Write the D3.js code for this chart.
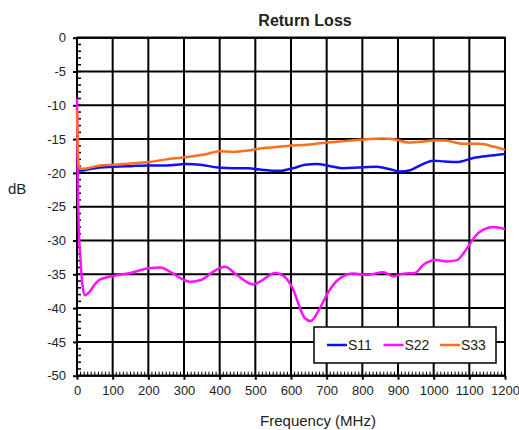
<!DOCTYPE html>
<html>
<head>
<meta charset="utf-8">
<script src="https://cdn.jsdelivr.net/npm/d3@7"></script>
<style>
  body { margin: 0; background: #fff; }
  text { font-family: "Liberation Sans", Arial, sans-serif; fill: #222; }
</style>
</head>
<body>
<svg width="519" height="430"></svg>
<script>
// Series data (frequency in MHz, return loss in dB)
const s11Freq = [0, 20, 64, 100, 150, 200, 250, 307, 345, 396, 440, 480, 513, 569, 606, 640, 672, 710, 747, 790, 840, 880, 906, 934, 965, 999, 1030, 1065, 1111, 1150, 1200];
const s11Db = [-19.7, -19.6, -19.2, -19.1, -19.0, -18.9, -18.9, -18.7, -18.8, -19.2, -19.3, -19.3, -19.5, -19.7, -19.3, -18.8, -18.7, -19.0, -19.3, -19.2, -19.1, -19.5, -19.8, -19.6, -18.8, -18.2, -18.3, -18.4, -17.8, -17.5, -17.2];

const s22Freq = [0, 2, 5, 10, 15, 22, 35, 50, 64, 97, 158, 200, 233, 270, 298, 317, 350, 382, 415, 448, 494, 513, 555, 583, 602, 639, 655, 681, 705, 737, 775, 812, 859, 887, 915, 948, 971, 1008, 1036, 1065, 1093, 1116, 1139, 1167, 1200];
const s22Db = [-9, -20, -28, -33, -36.5, -38.1, -37.6, -36.5, -35.8, -35.3, -34.7, -34.1, -34.0, -34.9, -35.8, -36.1, -35.8, -34.6, -33.9, -35.1, -36.5, -36.1, -34.8, -35.4, -36.8, -41.5, -41.9, -40.0, -37.6, -35.6, -34.9, -35.1, -34.7, -35.3, -34.9, -34.8, -33.6, -32.9, -33.1, -32.9, -31.2, -29.4, -28.4, -28.0, -28.3];

const s33Freq = [0, 2, 5, 10, 30, 64, 100, 150, 200, 250, 300, 364, 400, 438, 480, 513, 550, 597, 650, 700, 750, 793, 858, 896, 928, 960, 998, 1032, 1060, 1082, 1130, 1167, 1200];
const s33Db = [-10.7, -16, -19.0, -19.4, -19.3, -18.9, -18.8, -18.6, -18.4, -18.0, -17.7, -17.2, -16.8, -16.9, -16.7, -16.4, -16.2, -16.0, -15.8, -15.5, -15.3, -15.1, -14.9, -15.1, -15.5, -15.4, -15.2, -15.2, -15.5, -15.7, -15.7, -16.1, -16.6];

const seriesNames = ['S11', 'S22', 'S33'];
const seriesColors = ['#1010f0', '#ff10ff', '#ff6e1a'];

// Axis ticks
const xTicks = d3.range(0, 1201, 100);
const yTicks = d3.range(0, -51, -5);
const xMinorTicks = d3.range(0, 1201, 10);
const yMinorTicks = d3.range(0, -51, -1);

const chartTitle = 'Return Loss';
const xTitle = 'Frequency (MHz)';
const yTitle = 'dB';

const series = [
  { name: seriesNames[0], color: seriesColors[0], values: s11Freq.map((f, i) => [f, s11Db[i]]) },
  { name: seriesNames[1], color: seriesColors[1], values: s22Freq.map((f, i) => [f, s22Db[i]]) },
  { name: seriesNames[2], color: seriesColors[2], values: s33Freq.map((f, i) => [f, s33Db[i]]) }
];

const svg = d3.select('svg');

// Plot area bounds
const plotLeft = 77;
const plotRight = 505;
const plotTop = 37.7;
const plotBottom = 375.7;

const xScale = d3.scaleLinear().domain([0, 1200]).range([plotLeft, plotRight]);
const yScale = d3.scaleLinear().domain([0, -50]).range([plotTop, plotBottom]);

// Grid lines
const gridG = svg.append('g');

gridG.selectAll('.vgrid').data(xTicks).enter().append('line')
  .attr('x1', d => xScale(d))
  .attr('x2', d => xScale(d))
  .attr('y1', plotTop)
  .attr('y2', plotBottom)
  .attr('stroke', '#000')
  .attr('stroke-width', 2);

gridG.selectAll('.hgrid').data(yTicks).enter().append('line')
  .attr('x1', plotLeft)
  .attr('x2', plotRight)
  .attr('y1', d => yScale(d))
  .attr('y2', d => yScale(d))
  .attr('stroke', '#000')
  .attr('stroke-width', 2);

// Minor ticks, drawn inside the plot
gridG.selectAll('.xminor').data(xMinorTicks).enter().append('line')
  .attr('x1', d => xScale(d))
  .attr('x2', d => xScale(d))
  .attr('y1', plotBottom)
  .attr('y2', plotBottom - 4)
  .attr('stroke', '#000')
  .attr('stroke-width', 1);

gridG.selectAll('.yminor').data(yMinorTicks).enter().append('line')
  .attr('x1', plotLeft)
  .attr('x2', plotLeft + 4)
  .attr('y1', d => yScale(d))
  .attr('y2', d => yScale(d))
  .attr('stroke', '#000')
  .attr('stroke-width', 1.5);

// Axes with outside major ticks (plain hyphen for negatives, as in the original)
const xAxisG = svg.append('g')
  .attr('transform', `translate(0,${plotBottom})`)
  .call(d3.axisBottom(xScale).tickValues(xTicks).tickSize(4).tickPadding(6).tickFormat(d => String(d)));

const yAxisG = svg.append('g')
  .attr('transform', `translate(${plotLeft},0)`)
  .call(d3.axisLeft(yScale).tickValues(yTicks).tickSize(4).tickPadding(7).tickFormat(d => String(d)));

[xAxisG, yAxisG].forEach(g => {
  g.select('.domain').remove();
  g.selectAll('line').attr('stroke', '#000').attr('stroke-width', 2);
  g.selectAll('text')
    .attr('font-size', 13)
    .style('font-family', '"Liberation Sans", Arial, sans-serif')
    .attr('fill', '#222');
});

// Plot frame
svg.append('rect')
  .attr('x', plotLeft)
  .attr('y', plotTop)
  .attr('width', plotRight - plotLeft)
  .attr('height', plotBottom - plotTop)
  .attr('fill', 'none')
  .attr('stroke', '#000')
  .attr('stroke-width', 2);

// Curves
const lineGen = d3.line()
  .x(d => xScale(d[0]))
  .y(d => yScale(d[1]))
  .curve(d3.curveMonotoneX);

svg.append('g').selectAll('path').data(series).enter().append('path')
  .attr('d', d => lineGen(d.values))
  .attr('fill', 'none')
  .attr('stroke', d => d.color)
  .attr('stroke-width', 2.5)
  .attr('stroke-linejoin', 'round');

// Titles
svg.append('text')
  .attr('x', 305)
  .attr('y', 26)
  .attr('text-anchor', 'middle')
  .attr('font-size', 16)
  .attr('font-weight', 'bold')
  .text(chartTitle);

svg.append('text')
  .attr('x', 318)
  .attr('y', 426)
  .attr('text-anchor', 'middle')
  .attr('font-size', 15)
  .text(xTitle);

svg.append('text')
  .attr('x', 8)
  .attr('y', 194)
  .attr('font-size', 15)
  .text(yTitle);

// Legend
const legendG = svg.append('g').attr('transform', 'translate(314,327)');

legendG.append('rect')
  .attr('width', 182)
  .attr('height', 36)
  .attr('fill', '#fff')
  .attr('stroke', '#000')
  .attr('stroke-width', 1.5);

const legendItems = legendG.selectAll('.item').data(series).enter().append('g')
  .attr('transform', (d, i) => `translate(${13 + i * 56.5},18)`);

legendItems.append('line')
  .attr('x1', 0)
  .attr('x2', 20)
  .attr('stroke', d => d.color)
  .attr('stroke-width', 2.5);

legendItems.append('text')
  .attr('x', 21)
  .attr('y', 5)
  .attr('font-size', 14)
  .text(d => d.name);
</script>
</body>
</html>
